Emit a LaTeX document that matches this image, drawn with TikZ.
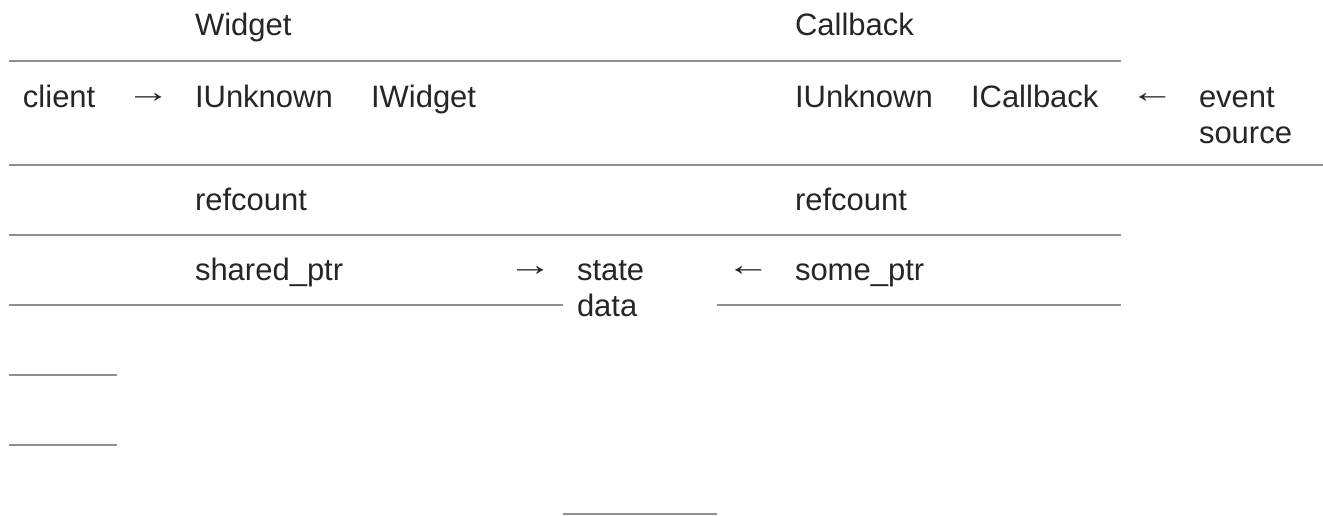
\documentclass[tikz,border=0pt]{standalone}
\usepackage{fontspec}
\setmainfont{Liberation Sans}
\definecolor{txt}{HTML}{262626}
\definecolor{rulec}{HTML}{8F8F8F}
\begin{document}
\begin{tikzpicture}[x=1pt,y=-1pt,
  lbl/.style={anchor=base west,inner sep=0pt,outer sep=0pt,text=txt,font=\fontsize{31}{36}\selectfont},
  arr/.style={lbl},
  rl/.style={draw=rulec,line width=2pt}]
\useasboundingbox (0,0) rectangle (1323,515);
% header row
\node[lbl] (hw) at (195,35) {Widget};
\node[lbl] (hc) at (795,35) {Callback};
% interface row
\node[lbl] (client) at (23,107) {client};
\node[arr] (a1) at (126,102) {\scalebox{1.43}[1]{→}};
\node[lbl] (iu1) at (195,107) {IUnknown};
\node[lbl] (iw) at (371,107) {IWidget};
\node[lbl] (iu2) at (795,107) {IUnknown};
\node[lbl] (icb) at (971,107) {ICallback};
\node[arr] (a2) at (1130,102) {\scalebox{1.43}[1]{←}};
\node[lbl] (ev1) at (1199,107) {event};
\node[lbl] (ev2) at (1199,143) {source};
% refcount row
\node[lbl] (rc1) at (195,210) {refcount};
\node[lbl] (rc2) at (795,210) {refcount};
% pointer row
\node[lbl] (sp) at (195,280) {shared\_ptr};
\node[arr] (a3) at (508,275) {\scalebox{1.43}[1]{→}};
\node[lbl] (sd1) at (577,280) {state};
\node[lbl] (sd2) at (577,316) {data};
\node[arr] (a4) at (726,275) {\scalebox{1.43}[1]{←}};
\node[lbl] (so) at (795,280) {some\_ptr};
% rules
\draw[rl] (9,61) -- (1121,61);
\draw[rl] (9,165) -- (1323,165);
\draw[rl] (9,235) -- (1121,235);
\draw[rl] (9,305) -- (563,305);
\draw[rl] (717,305) -- (1121,305);
\draw[rl] (9,375) -- (117,375);
\draw[rl] (9,445) -- (117,445);
\draw[rl] (563,514) -- (717,514);
\end{tikzpicture}
\end{document}
